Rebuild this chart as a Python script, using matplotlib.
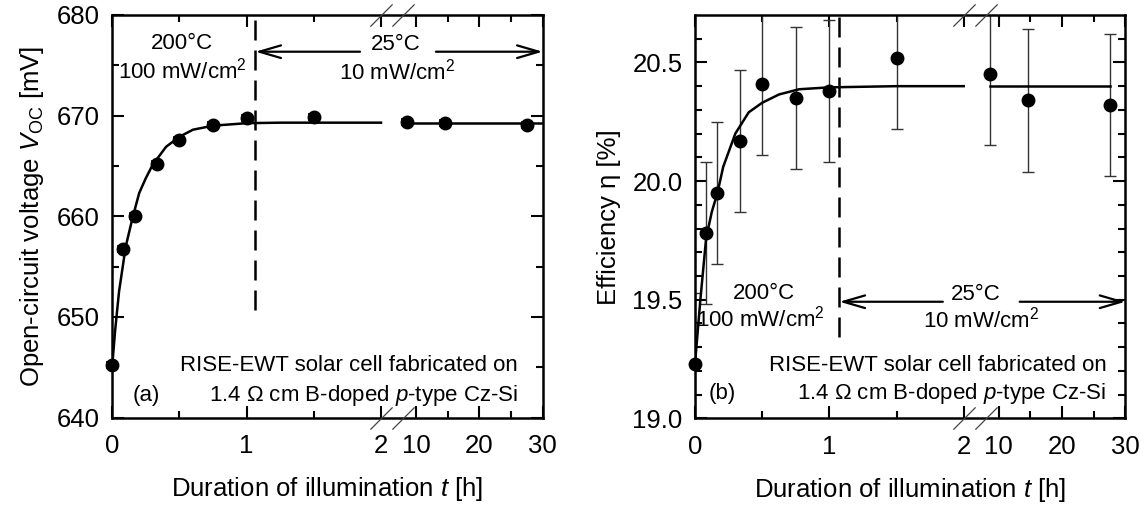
import numpy as np
import matplotlib
matplotlib.use("Agg")
import matplotlib.pyplot as plt
import matplotlib.transforms as mtransforms
from matplotlib.ticker import FixedLocator, FormatStrFormatter

plt.rcParams['font.family'] = ['Liberation Sans', 'DejaVu Sans']
plt.rcParams['mathtext.fontset'] = 'custom'
plt.rcParams['mathtext.rm'] = 'Liberation Sans'
plt.rcParams['mathtext.it'] = 'Liberation Sans:italic'
plt.rcParams['mathtext.bf'] = 'Liberation Sans:bold'

# ---- measured data -------------------------------------------------------
t_meas = [0, 0.083, 0.167, 0.333, 0.5, 0.75, 1.0, 1.5, 8.6, 14.6, 27.5]   # h
voc = [645.2, 656.7, 660.0, 665.2, 667.6, 669.1, 669.8, 669.9, 669.4, 669.3, 669.1]  # mV
voc_err = [0.3, 0.3, 0.3, 0.3, 0.3, 0.3, 0.3, 0.3, 0.3, 0.3, 0.3]
eta = [19.23, 19.78, 19.95, 20.17, 20.41, 20.35, 20.38, 20.52, 20.45, 20.34, 20.32]  # %
eta_err = [0.30, 0.30, 0.30, 0.30, 0.30, 0.30, 0.30, 0.30, 0.30, 0.30, 0.30]

# ---- fitted curves (200 °C stage and 25 °C plateau) ----------------------
voc_fit_t = [0, 0.02, 0.05, 0.1, 0.15, 0.2, 0.25, 0.3, 0.4, 0.5, 0.6, 0.75, 1.0, 1.25, 1.5, 2.0]
voc_fit = [645.2, 648.5, 652.5, 657.0, 659.8, 662.3, 663.8, 665.1, 666.9, 667.9, 668.6,
           669.0, 669.25, 669.3, 669.3, 669.3]
voc_plateau_t = [8.6, 30]
voc_plateau = [669.3, 669.3]

eta_fit_t = [0, 0.04, 0.083, 0.125, 0.167, 0.21, 0.3, 0.4, 0.5, 0.625, 0.775, 1.0, 1.5, 2.0]
eta_fit = [19.23, 19.50, 19.76, 19.87, 19.95, 20.06, 20.20, 20.29, 20.33, 20.365, 20.387,
           20.395, 20.40, 20.40]
eta_plateau_t = [8.6, 27.5]
eta_plateau = [20.40, 20.40]

t_switch = [1.065, 1.075]          # end of the 200 °C stage in each panel

x_major = [0, 1, 2, 10, 20, 30]
x_major_labels = ['0', '1', '2', '10', '20', '30']
x_minor = [0.5, 1.5, 15, 25]
break_t = [2, 8]

# ---- broken time axis: linear 0-2 h, compressed 10-30 h ------------------
U10 = 2.26
K = 0.04717
U5 = U10 + (5 - 10) * K


def fwd(t):
    t = np.asarray(t, float)
    return np.where(t <= 2, t,
                    np.where(t <= 5, 2 + (t - 2) * (U5 - 2) / 3, U10 + (t - 10) * K))


def inv(u):
    u = np.asarray(u, float)
    return np.where(u <= 2, u,
                    np.where(u <= U5, 2 + (u - 2) * 3 / (U5 - 2), 10 + (u - U10) / K))


FS_TICK = 18.5
FS_LABEL = 18.5
FS_NOTE = 16
LW = 1.8

fig = plt.figure(figsize=(11.46, 5.09), dpi=100)
ax1 = fig.add_axes([112.3 / 1146, 1 - 417.5 / 509, 430.4 / 1146, 402.5 / 509])
ax2 = fig.add_axes([695 / 1146, 1 - 418.3 / 509, 430.4 / 1146, 403.3 / 509])


def style_axis(ax):
    ax.set_xscale('function', functions=(fwd, inv))
    ax.set_xlim(0, 30)
    ax.xaxis.set_major_locator(FixedLocator(x_major))
    ax.set_xticklabels(x_major_labels)
    ax.xaxis.set_minor_locator(FixedLocator(x_minor))
    for s in ax.spines.values():
        s.set_linewidth(LW)
    ax.tick_params(which='both', direction='in', top=True, right=True,
                   width=1.5, labelsize=FS_TICK)
    ax.tick_params(which='major', length=8.5)
    ax.tick_params(which='minor', length=4.8)
    ax.tick_params(axis='x', pad=12)
    ax.tick_params(axis='y', pad=9)
    ax.set_xlabel('Duration of illumination $t$ [h]', fontsize=FS_LABEL, labelpad=12)
    # axis-break marks on the top and bottom spines
    trans = mtransforms.blended_transform_factory(ax.transData, ax.transAxes)
    ax.plot(break_t + break_t, [0, 0, 1, 1], transform=trans, linestyle='none',
            marker=[(-1, -1), (1, 1)], markersize=16, markeredgewidth=0.9,
            markeredgecolor='#444444', clip_on=False, zorder=5)


def stage_labels(ax, ts, y_arrow, tail1, tail2, p200, p100, p25, p10):
    ax.text(*p200, '200°C', transform=ax.transAxes, ha='center', va='center', fontsize=FS_NOTE)
    ax.text(*p100, '100 mW/cm$^2$', transform=ax.transAxes, ha='center', va='center', fontsize=FS_NOTE)
    ax.text(*p25, '25°C', transform=ax.transAxes, ha='center', va='center', fontsize=FS_NOTE)
    ax.text(*p10, '10 mW/cm$^2$', transform=ax.transAxes, ha='center', va='center', fontsize=FS_NOTE)
    aprops = dict(arrowstyle='->,head_length=1.3,head_width=0.38', lw=1.6, color='black',
                  mutation_scale=12, shrinkA=0, shrinkB=0)
    ax.annotate('', xy=(ts, y_arrow), xycoords=('data', 'axes fraction'),
                xytext=(tail1, y_arrow), textcoords='axes fraction', arrowprops=aprops)
    ax.annotate('', xy=(1.0, y_arrow), xycoords='axes fraction',
                xytext=(tail2, y_arrow), textcoords='axes fraction', arrowprops=aprops)


def sample_note(ax, x_right, y1, y2, tag, x_tag):
    ax.text(x_right, y1, 'RISE-EWT solar cell fabricated on', transform=ax.transAxes,
            ha='right', va='center', fontsize=FS_NOTE)
    ax.text(x_right, y2, '1.4 Ω cm B-doped $p$-type Cz-Si', transform=ax.transAxes,
            ha='right', va='center', fontsize=FS_NOTE)
    ax.text(x_tag, y2, tag, transform=ax.transAxes, ha='center', va='center', fontsize=FS_NOTE)


# ---- (a) open-circuit voltage --------------------------------------------
style_axis(ax1)
ax1.set_ylim(640, 680)
ax1.yaxis.set_major_locator(FixedLocator([640, 650, 660, 670, 680]))
ax1.yaxis.set_minor_locator(FixedLocator([645, 655, 665, 675]))
ax1.set_ylabel('Open-circuit voltage $V_{\\mathrm{OC}}$ [mV]', fontsize=FS_LABEL, labelpad=8)
ax1.plot(voc_fit_t, voc_fit, color='black', lw=LW, zorder=3)
ax1.plot(voc_plateau_t, voc_plateau, color='black', lw=LW, zorder=3)
eb = ax1.errorbar(t_meas, voc, yerr=voc_err, fmt='o', color='black', ms=9, capsize=4.5,
                  elinewidth=1.2, capthick=1.2, zorder=4)
for art in [eb[0], *eb[1], *eb[2]]:
    art.set_clip_on(False)
ax1.axvline(t_switch[0], ymin=0.2667, ymax=1, color='black', lw=LW,
            linestyle=(0, (8, 4)), zorder=2)
stage_labels(ax1, t_switch[0], 0.9088, 0.5755, 0.752,
             (0.161, 0.930), (0.163, 0.863), (0.659, 0.9255), (0.6626, 0.859))
sample_note(ax1, 0.942, 0.130, 0.0554, '(a)', 0.08)

# ---- (b) efficiency --------------------------------------------------------
style_axis(ax2)
ax2.set_ylim(19.0, 20.7)
ax2.yaxis.set_major_locator(FixedLocator([19.0, 19.5, 20.0, 20.5]))
ax2.yaxis.set_minor_locator(FixedLocator([19.1, 19.2, 19.3, 19.4, 19.6, 19.7, 19.8, 19.9,
                                          20.1, 20.2, 20.3, 20.4, 20.6]))
ax2.yaxis.set_major_formatter(FormatStrFormatter('%.1f'))
ax2.set_ylabel('Efficiency η [%]', fontsize=FS_LABEL, labelpad=8)
ax2.plot(eta_fit_t, eta_fit, color='black', lw=LW, zorder=3)
ax2.plot(eta_plateau_t, eta_plateau, color='black', lw=LW, zorder=3)
ax2.errorbar(t_meas, eta, yerr=eta_err, fmt='none', ecolor='#333333', elinewidth=1.0,
             capsize=4.3, capthick=1.0, zorder=2)
ax2.plot(t_meas, eta, 'o', color='black', ms=9, zorder=4, clip_on=False)
ax2.axvline(t_switch[1], ymin=0.2023, ymax=1, color='black', lw=LW,
            linestyle=(0, (8, 4)), zorder=2)
stage_labels(ax2, t_switch[1], 0.289, 0.5758, 0.7544,
             (0.1605, 0.31), (0.151, 0.248), (0.652, 0.306), (0.665, 0.244))
sample_note(ax2, 0.956, 0.132, 0.062, '(b)', 0.064)

fig.savefig('out.png', dpi=100)
